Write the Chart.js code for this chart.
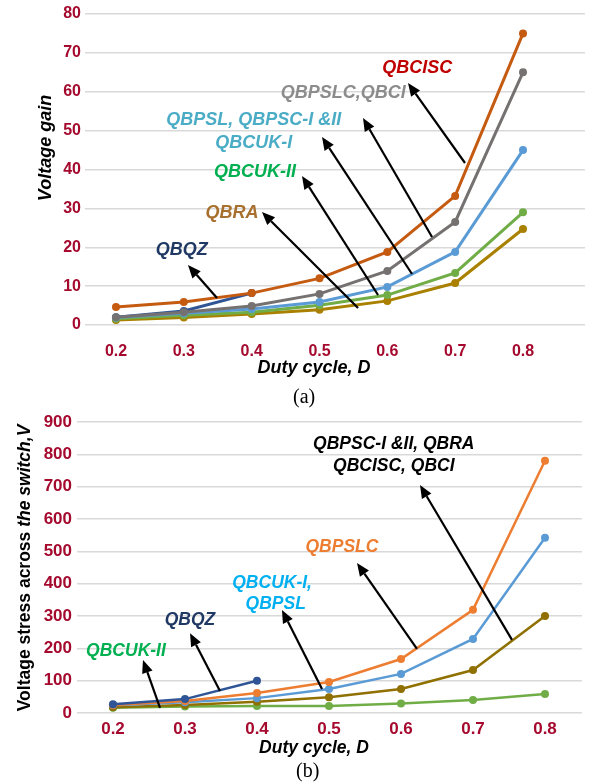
<!DOCTYPE html>
<html><head><meta charset="utf-8">
<script src="https://cdn.jsdelivr.net/npm/chart.js@4.4.0/dist/chart.umd.min.js"></script>
<style>
body{margin:0;background:#fff;width:591px;height:782px;overflow:hidden;position:relative}
#c1{position:absolute;left:0;top:0}
#c2{position:absolute;left:0;top:400px}
.cap{position:absolute;font-family:"Liberation Serif","Times New Roman",serif;font-size:20px;color:#000;line-height:22px}
</style></head><body>
<canvas id="c1" width="591" height="390"></canvas>
<canvas id="c2" width="591" height="382"></canvas>
<div class="cap" style="left:293px;top:385px">(a)</div>
<div class="cap" style="left:296px;top:759px">(b)</div>
<script>
// ---- shared categories ----
const dutyCycle = [0.2, 0.3, 0.4, 0.5, 0.6, 0.7, 0.8];
const xTickLabels = ['0.2', '0.3', '0.4', '0.5', '0.6', '0.7', '0.8'];

// ---- (a) Voltage gain ----
const gainTicks = [0, 10, 20, 30, 40, 50, 60, 70, 80];
const gainQBCISC      = [4.6, 5.9, 8.2, 12.0, 18.8, 33.2, 75.0];
const gainQBPSLC_QBCI = [2.0, 3.3, 4.9, 8.0, 13.9, 26.5, 65.0];
const gainQBPSL_QBCUK1 = [1.9, 3.0, 4.1, 5.9, 9.8, 18.8, 45.0];
const gainQBCUK2      = [1.6, 2.5, 3.3, 5.1, 7.7, 13.4, 29.0];
const gainQBRA        = [1.3, 1.9, 2.8, 3.9, 6.2, 10.8, 24.7];
const gainQBQZ        = [2.0, 3.6, 8.2, null, null, null, null];

// ---- (b) Voltage stress across the switch ----
const stressTicks = [0, 100, 200, 300, 400, 500, 600, 700, 800, 900];
const stressQBPSLC      = [25, 37, 62, 96, 167, 319, 780];
const stressQBPSL_CUK1  = [24, 33, 46, 74, 121, 229, 542];
const stressQBPSC_group = [18, 25, 35, 49, 74, 133, 300];
const stressQBCUK2      = [16, 20, 22, 22, 29, 40, 59];
const stressQBQZ        = [27, 43, 100, null, null, null, null];

const tickColor = '#A50A2E';
const gridColor = '#D9D9D9';
const SANS = '"Liberation Sans", Arial, sans-serif';

function pts(vals){ return dutyCycle.map((d,i)=>({x:d, y:vals[i]})); }
function ds(label, vals, color, order, w){
  return {label, data: pts(vals), borderColor: color, backgroundColor: color,
    borderWidth: w, pointRadius: 4, pointBorderWidth: 0, pointHoverRadius: 4,
    tension: 0, order};
}

const annotPlugin = {
  id: 'annot',
  afterDraw(chart, args, o){
    const {ctx} = chart, xs = chart.scales.x, ys = chart.scales.y;
    const px = v => xs.getPixelForValue(v), py = v => ys.getPixelForValue(v);
    ctx.save();
    (o.arrows||[]).forEach(a=>{
      const x1 = px(a.tail[0]), y1 = py(a.tail[1]), x2 = px(a.head[0]), y2 = py(a.head[1]);
      const ang = Math.atan2(y2-y1, x2-x1), L = 13, W = 5.5;
      const bx = x2 - L*Math.cos(ang), by = y2 - L*Math.sin(ang);
      ctx.strokeStyle = '#000'; ctx.lineWidth = 2.2;
      ctx.beginPath(); ctx.moveTo(x1,y1); ctx.lineTo(bx,by); ctx.stroke();
      ctx.fillStyle = '#000';
      ctx.beginPath(); ctx.moveTo(x2,y2);
      ctx.lineTo(bx + W*Math.sin(ang), by - W*Math.cos(ang));
      ctx.lineTo(bx - W*Math.sin(ang), by + W*Math.cos(ang));
      ctx.closePath(); ctx.fill();
    });
    ctx.textAlign = 'center'; ctx.textBaseline = 'middle';
    (o.labels||[]).forEach(l=>{
      ctx.font = 'italic bold ' + o.labelSize + 'px ' + SANS;
      ctx.fillStyle = l.color;
      ctx.fillText(l.text, px(l.at[0]), py(l.at[1]));
    });
    const t = o.titles;
    ctx.fillStyle = '#000';
    ctx.font = 'italic bold ' + t.size + 'px ' + SANS;
    ctx.fillText(t.x.text, t.x.pos[0], t.x.pos[1]);
    ctx.save();
    ctx.translate(t.y.pos[0], t.y.pos[1]); ctx.rotate(-Math.PI/2);
    const parts = t.y.parts;
    let total = 0;
    parts.forEach(p=>{ ctx.font = p.style + ' bold ' + t.size + 'px ' + SANS; p.w = ctx.measureText(p.text).width; total += p.w; });
    let cx = -total/2;
    ctx.textAlign = 'left';
    parts.forEach(p=>{ ctx.font = p.style + ' bold ' + t.size + 'px ' + SANS; ctx.fillText(p.text, cx, 0); cx += p.w; });
    ctx.restore();
    ctx.restore();
  }
};

function makeOptions(cfg){
  return {
    responsive: false, animation: false, events: [],
    layout: {padding: {top: cfg.padTop, right: cfg.padRight, left: 0, bottom: 0}},
    plugins: {legend: {display: false}, tooltip: {enabled: false}, annot: cfg.annot},
    scales: {
      x: {type: 'linear', min: cfg.xMin, max: cfg.xMax,
        afterBuildTicks: s => { s.ticks = dutyCycle.map(v => ({value: v})); },
        afterFit: s => { s.height = cfg.xHeight; },
        ticks: {callback: (v, i) => xTickLabels[i], color: tickColor, autoSkip: false, maxRotation: 0,
          font: {family: SANS, size: cfg.tickSize, weight: 'bold'}, padding: cfg.xTickPad},
        grid: {display: false}, border: {display: false}},
      y: {type: 'linear', min: cfg.yTicks[0], max: cfg.yTicks[cfg.yTicks.length-1],
        afterBuildTicks: s => { s.ticks = cfg.yTicks.map(v => ({value: v})); },
        afterFit: s => { s.width = cfg.yWidth; },
        ticks: {callback: v => String(v), color: tickColor,
          font: {family: SANS, size: cfg.tickSize, weight: 'bold'}, padding: cfg.yTickPad},
        grid: {color: gridColor, lineWidth: 1.5, drawTicks: false}, border: {display: false}}
    }
  };
}

// ---- chart (a) ----
new Chart(document.getElementById('c1'), {
  type: 'line',
  data: {datasets: [
    ds('QBCISC', gainQBCISC, '#C55A11', 1, 3),
    ds('QBPSLC, QBCI', gainQBPSLC_QBCI, '#767171', 2, 3),
    ds('QBPSL, QBPSC-I & II, QBCUK-I', gainQBPSL_QBCUK1, '#5B9BD5', 3, 3),
    ds('QBCUK-II', gainQBCUK2, '#70AD47', 4, 3),
    ds('QBRA', gainQBRA, '#A98000', 5, 3),
    ds('QBQZ', gainQBQZ, '#2F5597', 6, 3)
  ]},
  options: makeOptions({
    padTop: 14, padRight: 6, xMin: 0.1543, xMax: 0.8914, xHeight: 65, yWidth: 85,
    tickSize: 16, xTickPad: 9, yTickPad: 4, yTicks: gainTicks,
    annot: {
      labelSize: 18,
      labels: [
        {text: 'QBCISC', at: [0.644, 66.1], color: '#C00000'},
        {text: 'QBPSLC,QBCI', at: [0.535, 59.7], color: '#8C8C8C'},
        {text: 'QBPSL, QBPSC-I &II', at: [0.403, 52.7], color: '#4BACC6'},
        {text: 'QBCUK-I', at: [0.403, 46.8], color: '#4BACC6'},
        {text: 'QBCUK-II', at: [0.405, 39.4], color: '#00B050'},
        {text: 'QBRA', at: [0.371, 28.8], color: '#A8702E'},
        {text: 'QBQZ', at: [0.297, 19.3], color: '#1F3864'}
      ],
      arrows: [
        {head: [0.6305, 62.25], tail: [0.7145, 41.67]},
        {head: [0.5641, 53.25], tail: [0.6659, 22.64]},
        {head: [0.5037, 48.36], tail: [0.6364, 13.12]},
        {head: [0.4742, 38.33], tail: [0.5863, 7.72]},
        {head: [0.4152, 29.07], tail: [0.5568, 4.37]},
        {head: [0.3061, 15.43], tail: [0.3489, 6.95]}
      ],
      titles: {size: 18,
        x: {text: 'Duty cycle, D', pos: [314, 368]},
        y: {pos: [46, 148], parts: [{text: 'Voltage gain', style: 'italic'}]}}
    }
  }),
  plugins: [annotPlugin]
});

// ---- chart (b) ----
new Chart(document.getElementById('c2'), {
  type: 'line',
  data: {datasets: [
    ds('QBPSLC', stressQBPSLC, '#ED7D31', 2, 2.5),
    ds('QBCUK-I, QBPSL', stressQBPSL_CUK1, '#5B9BD5', 3, 2.5),
    ds('QBPSC-I & II, QBRA, QBCISC, QBCI', stressQBPSC_group, '#8F7000', 4, 2.5),
    ds('QBCUK-II', stressQBCUK2, '#70AD47', 5, 2.5),
    ds('QBQZ', stressQBQZ, '#2F5597', 1, 2.5)
  ]},
  options: makeOptions({
    padTop: 22, padRight: 9, xMin: 0.15, xMax: 0.8514, xHeight: 69, yWidth: 77,
    tickSize: 17, xTickPad: -2, yTickPad: 5, yTicks: stressTicks,
    annot: {
      labelSize: 17.5,
      labels: [
        {text: 'QBPSC-I &II, QBRA', at: [0.590, 832], color: '#000000'},
        {text: 'QBCISC, QBCI', at: [0.590, 764], color: '#000000'},
        {text: 'QBPSLC', at: [0.518, 513], color: '#ED7D31'},
        {text: 'QBCUK-I,', at: [0.421, 402], color: '#00B0F0'},
        {text: 'QBPSL', at: [0.426, 337], color: '#00B0F0'},
        {text: 'QBQZ', at: [0.307, 288], color: '#203864'},
        {text: 'QBCUK-II', at: [0.218, 192], color: '#00B050'}
      ],
      arrows: [
        {head: [0.6264, 705], tail: [0.7542, 226]},
        {head: [0.5389, 464], tail: [0.6222, 198]},
        {head: [0.4347, 318.6], tail: [0.4903, 74]},
        {head: [0.307, 247], tail: [0.3486, 68]},
        {head: [0.2417, 164], tail: [0.2653, 15.5]}
      ],
      titles: {size: 17.5,
        x: {text: 'Duty cycle, D', pos: [314, 348]},
        y: {pos: [25, 168], parts: [{text: 'Voltage stress across ', style: 'normal'}, {text: 'the switch,V', style: 'italic'}]}}
    }
  }),
  plugins: [annotPlugin]
});
</script>
</body></html>
